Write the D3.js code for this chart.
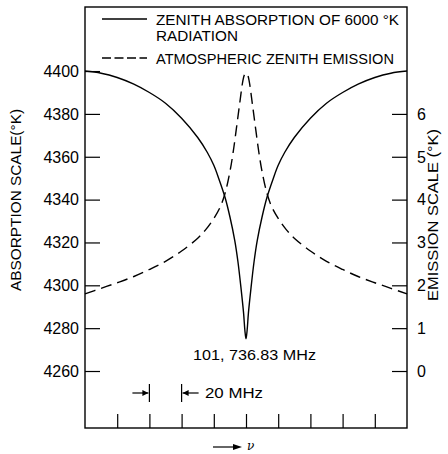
<!DOCTYPE html>
<html><head><meta charset="utf-8">
<script src="https://cdn.jsdelivr.net/npm/d3@7"></script>
<style>html,body{margin:0;padding:0;background:#fff;} svg{display:block;}</style>
</head><body>
<script>
// ---- data ----
const freqOffsets = [-100,-90,-80,-70,-60,-50,-40,-30,-24,-20,-17,-13,-10,-7,-5,-3,-1.5,-0.7,0,0.7,1.5,3,5,7,10,13,17,20,24,30,40,50,60,70,80,90,100];
const absorption  = [4400,4399,4397,4394,4390,4385,4378,4369,4362,4356,4350,4341,4332,4321,4311,4298,4287,4279,4275,4279,4287,4298,4311,4321,4332,4341,4350,4356,4362,4369,4378,4385,4390,4394,4397,4399,4400];
const emFreq      = [-100,-90,-80,-70,-60,-50,-40,-30,-25,-20,-16,-13,-10,-8,-6,-4,-2,-1,0,1,2,4,6,8,10,13,16,20,25,30,40,50,60,70,80,90,100];
const emission    = [1.8,1.93,2.06,2.2,2.37,2.56,2.8,3.1,3.3,3.56,3.83,4.15,4.65,5.1,5.65,6.22,6.76,6.91,6.95,6.91,6.76,6.22,5.65,5.1,4.65,4.15,3.83,3.56,3.3,3.1,2.8,2.56,2.37,2.2,2.06,1.93,1.8];
const leftTicks   = [4260,4280,4300,4320,4340,4360,4380,4400];
const rightTicks  = [0,1,2,3,4,5,6];
const bottomTicks = [-80,-60,-40,-20,0,20,40,60,80];
const legendLabels = ["ZENITH ABSORPTION OF 6000 °K", "RADIATION", "ATMOSPHERIC ZENITH EMISSION"];
const leftTitle = "ABSORPTION SCALE(°K)";
const rightTitle = "EMISSION SCALE (°K)";
const lineLabel = "101, 736.83 MHz";
const spanLabel = "20 MHz";

const W = 448, H = 454;
const L = 85, R = 407, T = 7, B = 428;
const FONT = "'Liberation Sans', Arial, sans-serif";

const svg = d3.select("body").append("svg").attr("width", W).attr("height", H);

const x = d3.scaleLinear().domain([-100, 100]).range([L, R]);
const yL = d3.scaleLinear().domain([4233.4, 4429.9]).range([B, T]);
const yR = d3.scaleLinear().domain([(4233.4-4260)/20, (4429.9-4260)/20]).range([B, T]);

// frame
svg.append("rect").attr("x", L).attr("y", T).attr("width", R-L).attr("height", B-T)
  .attr("fill", "none").attr("stroke", "#000").attr("stroke-width", 1.4);

// left axis (ticks inward)
const gl = svg.append("g").attr("transform", `translate(${L},0)`)
  .call(d3.axisRight(yL).tickValues(leftTicks).tickSize(15).tickFormat(""));
gl.select(".domain").remove();
gl.selectAll("line").attr("stroke-width", 1.2);
svg.append("g").selectAll("text").data(leftTicks).join("text")
  .attr("x", L-6).attr("y", d => yL(d)).attr("dy", "0.36em")
  .attr("text-anchor", "end").attr("font-family", FONT).attr("font-size", 16)
  .text(d => d);

// right axis
const gr = svg.append("g").attr("transform", `translate(${R},0)`)
  .call(d3.axisLeft(yR).tickValues(rightTicks).tickSize(15).tickFormat(""));
gr.select(".domain").remove();
gr.selectAll("line").attr("stroke-width", 1.2);
svg.append("g").selectAll("text").data(rightTicks).join("text")
  .attr("x", R+10).attr("y", d => yR(d)).attr("dy", "0.36em")
  .attr("text-anchor", "start").attr("font-family", FONT).attr("font-size", 16)
  .text(d => d);

// bottom ticks inward
const gb = svg.append("g").attr("transform", `translate(0,${B})`)
  .call(d3.axisTop(x).tickValues(bottomTicks).tickSize(14).tickFormat(""));
gb.select(".domain").remove();
gb.selectAll("line").attr("stroke-width", 1.2);

// curves
const lineA = d3.line().x((d,i) => x(freqOffsets[i])).y(d => yL(d)).curve(d3.curveCatmullRom.alpha(0.5));
svg.append("path").attr("d", lineA(absorption)).attr("fill", "none")
  .attr("stroke", "#000").attr("stroke-width", 1.4);
const lineE = d3.line().x((d,i) => x(emFreq[i])).y(d => yR(d)).curve(d3.curveCatmullRom.alpha(0.5));
svg.append("path").attr("d", lineE(emission)).attr("fill", "none")
  .attr("stroke", "#000").attr("stroke-width", 1.4).attr("stroke-dasharray", "11,6");

// legend
svg.append("line").attr("x1", 102).attr("x2", 147).attr("y1", 19).attr("y2", 19)
  .attr("stroke", "#000").attr("stroke-width", 1.4);
svg.append("line").attr("x1", 102).attr("x2", 147).attr("y1", 58).attr("y2", 58)
  .attr("stroke", "#000").attr("stroke-width", 1.4).attr("stroke-dasharray", "9,3.5");
function txt(s, xx, yy, len, size) {
  return svg.append("text").attr("x", xx).attr("y", yy).attr("font-family", FONT)
    .attr("font-size", size).attr("textLength", len).attr("lengthAdjust", "spacingAndGlyphs").text(s);
}
txt(legendLabels[0], 156, 25, 243, 15);
txt(legendLabels[1], 156, 41, 82, 15);
txt(legendLabels[2], 156, 64, 238, 15);

// line label
txt(lineLabel, 193, 360, 123, 15);

// 20 MHz marker
const xa = x(-60), xb = x(-40);
svg.append("line").attr("x1", xa).attr("x2", xa).attr("y1", 384).attr("y2", 402).attr("stroke", "#000").attr("stroke-width", 1.2);
svg.append("line").attr("x1", xb).attr("x2", xb).attr("y1", 384).attr("y2", 402).attr("stroke", "#000").attr("stroke-width", 1.2);
svg.append("line").attr("x1", xa-17).attr("x2", xa-1).attr("y1", 393).attr("y2", 393).attr("stroke", "#000").attr("stroke-width", 1.2);
svg.append("path").attr("d", `M${xa-1},393 L${xa-7},390 L${xa-7},396 Z`).attr("fill", "#000");
svg.append("line").attr("x1", xb+1).attr("x2", xb+17).attr("y1", 393).attr("y2", 393).attr("stroke", "#000").attr("stroke-width", 1.2);
svg.append("path").attr("d", `M${xb+1},393 L${xb+7},390 L${xb+7},396 Z`).attr("fill", "#000");
txt(spanLabel, 205, 398, 58, 15);

// axis titles
svg.append("text").attr("transform", "translate(21,200) rotate(-90)")
  .attr("text-anchor", "middle").attr("font-family", FONT).attr("font-size", 15)
  .attr("textLength", 182).attr("lengthAdjust", "spacingAndGlyphs").text(leftTitle);
svg.append("text").attr("transform", "translate(438,215) rotate(-90)")
  .attr("text-anchor", "middle").attr("font-family", FONT).attr("font-size", 15)
  .attr("textLength", 172).attr("lengthAdjust", "spacingAndGlyphs").text(rightTitle);

// nu arrow
svg.append("line").attr("x1", 213).attr("x2", 236).attr("y1", 447).attr("y2", 447).attr("stroke", "#000").attr("stroke-width", 1.2);
svg.append("path").attr("d", "M242,447 L233,444 L233,450 Z").attr("fill", "#000");
svg.append("text").attr("x", 247).attr("y", 450).attr("font-family", "'DejaVu Serif', serif")
  .attr("font-style", "italic").attr("font-size", 12).text("ν");
</script>
</body></html>
